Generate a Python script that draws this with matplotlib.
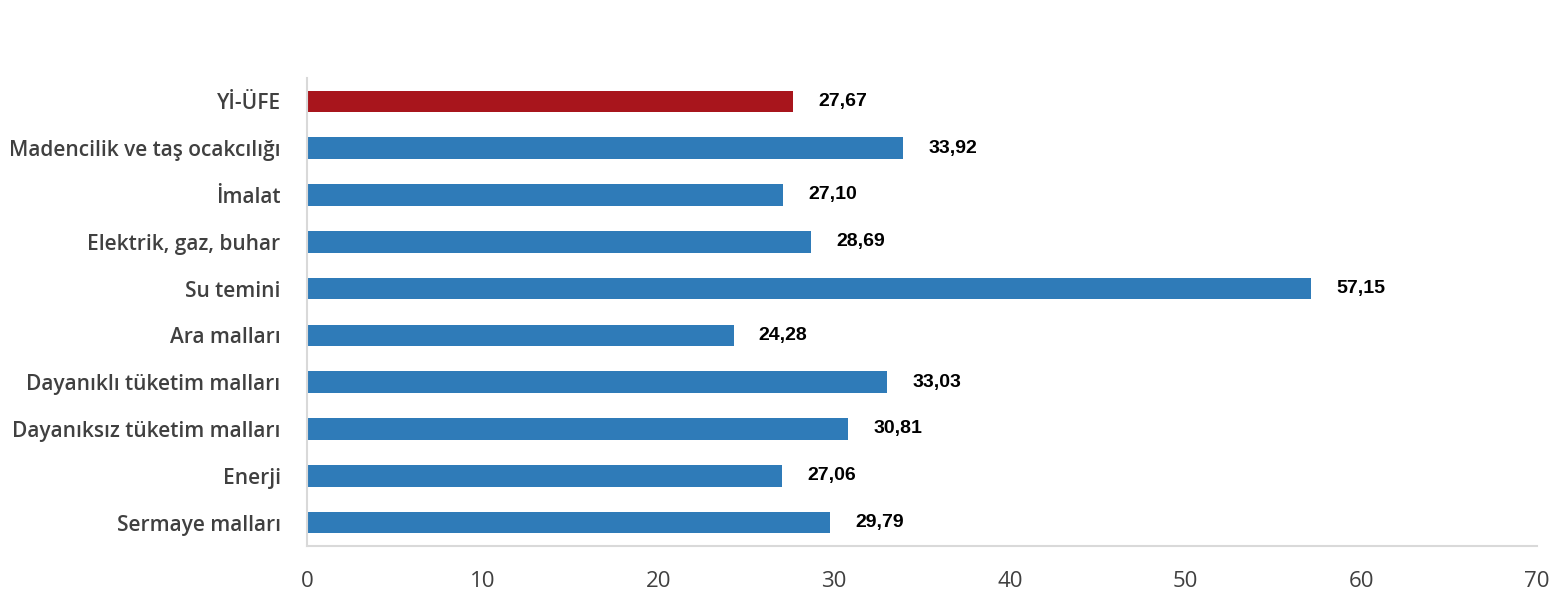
import matplotlib
matplotlib.use("Agg")
import matplotlib.pyplot as plt

categories = [
    "Yİ-ÜFE",
    "Madencilik ve taş ocakcılığı",
    "İmalat",
    "Elektrik, gaz, buhar",
    "Su temini",
    "Ara malları",
    "Dayanıklı tüketim malları",
    "Dayanıksız tüketim malları",
    "Enerji",
    "Sermaye malları",
]
values = [27.67, 33.92, 27.10, 28.69, 57.15, 24.28, 33.03, 30.81, 27.06, 29.79]
xticks = [0, 10, 20, 30, 40, 50, 60, 70]

colors = ["#a8151c"] + ["#2f7bb8"] * (len(values) - 1)

fig = plt.figure(figsize=(15.56, 6), dpi=100)
ax = fig.add_axes([0.1973, 0.09, 0.7905, 0.78])

pos = list(range(len(categories)))
ax.barh(pos, values, height=0.46, color=colors)

for y, v in zip(pos, values):
    ax.annotate(f"{v:.2f}".replace(".", ","), xy=(v, y), xytext=(18, 0),
                textcoords="offset points", va="center", ha="left",
                fontsize=14, fontweight="bold", family="Liberation Sans",
                color="black")

ax.set_ylim(len(categories) - 0.5, -0.5)
ax.set_xlim(0, 70)
ax.set_xticks(xticks)
ax.set_yticks(pos)
ax.set_yticklabels(categories, family="Open Sans", fontsize=15,
                   fontweight="semibold", color="#404040")
for lab in ax.get_xticklabels():
    lab.set_family("Open Sans")
    lab.set_fontsize(16)
    lab.set_color("#404040")
ax.tick_params(axis="both", length=0)
ax.tick_params(axis="y", pad=19)
ax.tick_params(axis="x", pad=18)

for s in ["top", "right"]:
    ax.spines[s].set_visible(False)
for s in ["left", "bottom"]:
    ax.spines[s].set_color("#d9d9d9")
    ax.spines[s].set_linewidth(1.5)

fig.savefig("out.png", dpi=100)
